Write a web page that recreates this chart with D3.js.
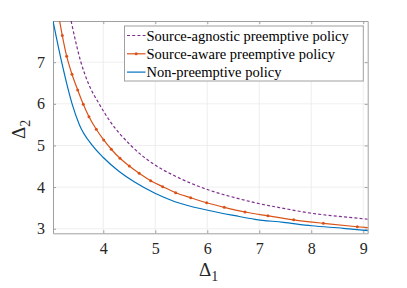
<!DOCTYPE html>
<html>
<head>
<meta charset="utf-8">
</head>
<body style="margin:0">
<svg width="407" height="288"></svg>
<script src="https://d3js.org/d3.v7.min.js"></script>
<script>
    // values
    let xTicks = [4, 5, 6, 7, 8, 9]
    let yTicks = [3, 4, 5, 6, 7]

    let seriesNames = ["Source-agnostic preemptive policy", "Source-aware preemptive policy", "Non-preemptive policy"]

    // source-agnostic (dashed purple)
    let agnosticX = [3.381, 3.57, 3.71, 3.92, 4.12, 4.53, 4.994, 5.379, 5.988, 6.533, 6.917, 7.462, 8.008, 8.615, 9.096]
    let agnosticY = [7.99, 7.0, 6.5, 6.0, 5.6, 5.0, 4.531, 4.267, 3.947, 3.745, 3.625, 3.49, 3.37, 3.288, 3.226]

    // source-aware (orange with markers)
    let awareX = [3.135, 3.212, 3.296, 3.398, 3.508, 3.615, 3.725, 3.865, 4.008, 4.154, 4.321, 4.5, 4.69, 4.912, 5.142, 5.392, 5.681, 5.988, 6.327, 6.725, 7.167, 7.662, 8.231, 8.885, 9.6]
    let awareY = [8.17, 7.64, 7.144, 6.712, 6.334, 5.99, 5.692, 5.389, 5.132, 4.909, 4.692, 4.507, 4.332, 4.154, 4.01, 3.865, 3.745, 3.625, 3.514, 3.401, 3.31, 3.214, 3.13, 3.048, 2.97]

    // non-preemptive (blue)
    let nonX = [3.033, 3.2, 3.4, 3.54, 3.79, 4.0, 4.3, 4.61, 4.994, 5.379, 5.988, 6.533, 6.917, 7.462, 8.008, 8.615, 9.096]
    let nonY = [7.99, 7.0, 6.0, 5.5, 5.0, 4.71, 4.38, 4.115, 3.851, 3.649, 3.45, 3.313, 3.226, 3.154, 3.072, 3.01, 2.952]

    let svg = d3.select("svg")

    let mLeft = 53, mRight = 367.7, mTop = 21, mBottom = 233.3
    let serif = '"Liberation Serif", "Times New Roman", monospace'

    let x = d3.scaleLinear().domain([3.033, 9.085]).range([mLeft, mRight])
    let y = d3.scaleLinear().domain([2.89, 7.99]).range([mBottom, mTop])

    svg.append("defs").append("clipPath").attr("id", "clip")
        .append("rect")
        .attr("x", mLeft).attr("y", mTop)
        .attr("width", mRight - mLeft).attr("height", mBottom - mTop)

    // grid
    svg.append("g")
        .selectAll("line")
        .data(xTicks)
        .join("line")
        .attr("x1", d => x(d)).attr("x2", d => x(d))
        .attr("y1", mTop).attr("y2", mBottom)
        .style("stroke", "#ebebeb")
        .style("stroke-width", 0.8)

    svg.append("g")
        .selectAll("line")
        .data(yTicks)
        .join("line")
        .attr("y1", d => y(d)).attr("y2", d => y(d))
        .attr("x1", mLeft).attr("x2", mRight)
        .style("stroke", "#ebebeb")
        .style("stroke-width", 0.8)

    // axes (matlab style, inward ticks, box on)
    let fmt = d3.format("d")
    let xAxis = d3.axisBottom(x).tickValues(xTicks).tickFormat(fmt).tickSizeInner(-3).tickSizeOuter(0).tickPadding(9)
    let yAxis = d3.axisLeft(y).tickValues(yTicks).tickFormat(fmt).tickSizeInner(-3).tickSizeOuter(0).tickPadding(8)

    let gx = svg.append("g").attr("transform", `translate(0,${mBottom})`).call(xAxis)
    let gy = svg.append("g").attr("transform", `translate(${mLeft},0)`).call(yAxis)
    let gxTop = svg.append("g").attr("transform", `translate(0,${mTop})`)
        .call(d3.axisTop(x).tickValues(xTicks).tickSizeInner(-3).tickSizeOuter(0).tickFormat(""))
    let gyRight = svg.append("g").attr("transform", `translate(${mRight},0)`)
        .call(d3.axisRight(y).tickValues(yTicks).tickSizeInner(-3).tickSizeOuter(0).tickFormat(""))

    ;[gx, gy, gxTop, gyRight].forEach(g => {
        g.attr("font-family", null).attr("font-size", null)
        g.select(".domain").style("stroke", "#a0a0a0").style("stroke-width", 1)
        g.selectAll(".tick line").style("stroke", "#a0a0a0")
        g.selectAll(".tick text")
            .attr("font-family", serif)
            .attr("font-size", 16)
            .style("fill", "#262626")
    })

    // lines
    let plot = svg.append("g").attr("clip-path", "url(#clip)")

    let line = d3.line()
        .x(d => x(d[0]))
        .y(d => y(d[1]))
        .curve(d3.curveMonotoneX)

    let agnostic = agnosticX.map((v, i) => [v, agnosticY[i]])
    let aware = awareX.map((v, i) => [v, awareY[i]])
    let non = nonX.map((v, i) => [v, nonY[i]])

    plot.append("path")
        .attr("d", line(non))
        .style("fill", "none")
        .style("stroke", "#0072BD")
        .style("stroke-width", 1.2)

    plot.append("path")
        .attr("d", line(aware))
        .style("fill", "none")
        .style("stroke", "#D95319")
        .style("stroke-width", 1.2)

    plot.selectAll(".mark")
        .data(aware)
        .join("circle")
        .attr("class", "mark")
        .attr("cx", d => x(d[0]))
        .attr("cy", d => y(d[1]))
        .attr("r", 1.5)
        .style("fill", "#D95319")

    plot.append("path")
        .attr("d", line(agnostic))
        .style("fill", "none")
        .style("stroke", "#7E2F8E")
        .style("stroke-width", 1.2)
        .style("stroke-dasharray", "3,2.2")

    // legend
    let lg = svg.append("g")
    lg.append("rect")
        .attr("x", 124.5).attr("y", 26)
        .attr("width", 238.8).attr("height", 55)
        .style("fill", "#fff")
        .style("stroke", "#a0a0a0")
        .style("stroke-width", 1)

    let legendStyles = [
        { color: "#7E2F8E", dash: "3,2.2", dot: false },
        { color: "#D95319", dash: null, dot: true },
        { color: "#0072BD", dash: null, dot: false }
    ]

    seriesNames.forEach((name, i) => {
        let cy = 35.5 + i * 18.3
        let s = legendStyles[i]
        lg.append("line")
            .attr("x1", 127).attr("x2", 145.5)
            .attr("y1", cy).attr("y2", cy)
            .style("stroke", s.color)
            .style("stroke-width", 1.2)
            .style("stroke-dasharray", s.dash)
        if (s.dot) {
            lg.append("circle").attr("cx", 136.2).attr("cy", cy).attr("r", 1.5).style("fill", s.color)
        }
        lg.append("text")
            .attr("x", 146.5).attr("y", cy + 5)
            .attr("font-family", serif)
            .attr("font-size", 14.5)
            .attr("fill", "#000")
            .text(name)
    })

    // axis labels
    let xl = svg.append("text")
        .attr("x", 199).attr("y", 276)
        .attr("font-family", serif)
        .attr("font-size", 19)
        .attr("fill", "#262626")
    xl.append("tspan").text("Δ")
    xl.append("tspan").attr("dy", 5).attr("font-size", 14).text("1")

    let yl = svg.append("text")
        .attr("transform", "translate(25,139) rotate(-90)")
        .attr("font-family", serif)
        .attr("font-size", 19)
        .attr("fill", "#262626")
    yl.append("tspan").text("Δ")
    yl.append("tspan").attr("dy", 5).attr("font-size", 14).text("2")
</script>
</body>
</html>
